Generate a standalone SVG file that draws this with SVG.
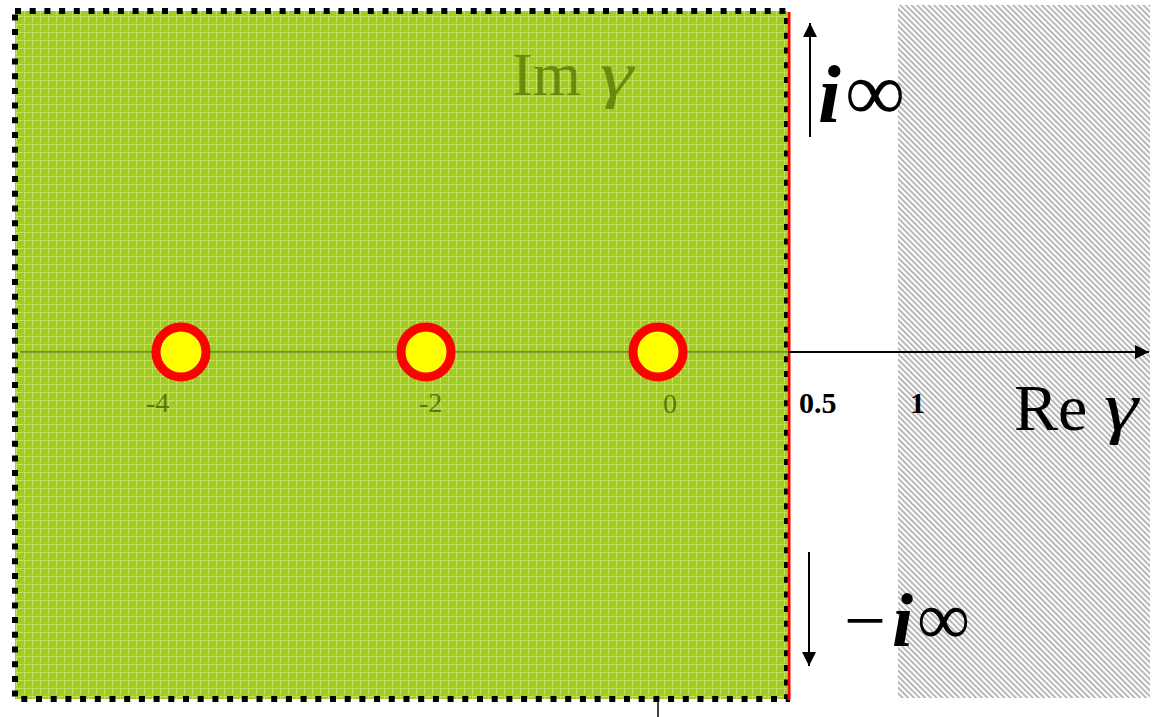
<svg xmlns="http://www.w3.org/2000/svg" width="1153" height="717" viewBox="0 0 1153 717">
<defs>
<pattern id="mesh" width="8" height="8" patternUnits="userSpaceOnUse">
<rect width="8" height="8" fill="#a2cd22"/>
<path d="M0 0.5H8M0.5 0V8" stroke="#c4e160" stroke-width="1"/>
<path d="M0 8L8 0" stroke="#8fb81e" stroke-width="0.8" opacity="0.5"/>
</pattern>
<pattern id="hatch" width="4" height="4" patternUnits="userSpaceOnUse" patternTransform="rotate(-45)">
<rect width="4" height="4" fill="#ffffff"/>
<rect width="1.6" height="4" fill="#a8a8a8"/>
</pattern>
<marker id="ahv" viewBox="0 0 10 10" refX="10" refY="5" markerWidth="16" markerHeight="14" markerUnits="userSpaceOnUse" orient="auto">
<path d="M0 0L10 5L0 10z" fill="#000"/>
</marker>
</defs>
<style>
.pole{fill:#ffff00;stroke:#ff0000;stroke-width:9}
.tick{font-family:"Liberation Serif",serif;font-size:28px;fill:#3d5c00;opacity:0.75}
.num{font-family:"Liberation Serif",serif;font-size:30px;font-weight:bold;fill:#000}
.big{font-family:"Liberation Serif",serif;fill:#000}
.im{font-family:"Liberation Serif",serif;fill:#4d6e00;opacity:0.7}
</style>
<rect id="hatched-region" x="898" y="5" width="252" height="693" fill="url(#hatch)"/>
<rect id="green-region" x="15" y="11" width="772" height="688" fill="url(#mesh)"/>
<line x1="20" y1="352" x2="788" y2="352" stroke="#3f5f00" stroke-width="1.2"/>
<rect x="15" y="11" width="772" height="688" fill="none" stroke="#000" stroke-width="6" stroke-dasharray="6 8.7"/>
<line x1="789" y1="12" x2="789" y2="700" stroke="#ff0000" stroke-width="3"/>
<g id="connectors">
<line x1="788" y1="352" x2="1149" y2="352" stroke="#000" stroke-width="2" marker-end="url(#ahv)"/>
<line x1="810" y1="137" x2="810" y2="23" stroke="#000" stroke-width="2" marker-end="url(#ahv)"/>
<line x1="809" y1="552" x2="809" y2="666" stroke="#000" stroke-width="2" marker-end="url(#ahv)"/>
<line x1="658" y1="702" x2="658" y2="717" stroke="#000" stroke-width="1.5"/>
</g>
<g id="pole-m4"><circle class="pole" cx="181" cy="352" r="25"/></g>
<g id="pole-m2"><circle class="pole" cx="426" cy="352" r="25"/></g>
<g id="pole-0"><circle class="pole" cx="658" cy="352" r="25"/></g>
<text class="tick" x="146" y="412">-4</text>
<text class="tick" x="419" y="412">-2</text>
<text class="tick" x="663" y="413">0</text>
<text class="num" x="799" y="413">0.5</text>
<text class="num" x="910" y="413">1</text>
<g id="label-re">
<text class="big" x="1014" y="430" font-size="66">Re</text>
<text class="big" x="1104" y="430" font-size="70" font-style="italic" textLength="34" lengthAdjust="spacingAndGlyphs">γ</text>
</g>
<g id="label-im">
<text class="im" x="512" y="95" font-size="62">Im</text>
<text class="im" x="600" y="95" font-size="64" font-style="italic" textLength="33" lengthAdjust="spacingAndGlyphs">γ</text>
</g>
<g id="label-iinf">
<text class="big" x="818" y="122" font-size="82" font-style="italic" font-weight="bold">i</text>
<text class="big" x="845" y="120" font-size="84" textLength="60" lengthAdjust="spacingAndGlyphs">∞</text>
</g>
<g id="label-minus-iinf">
<text class="big" x="844" y="646" font-size="76" textLength="42" lengthAdjust="spacingAndGlyphs">−</text>
<text class="big" x="892" y="646" font-size="76" font-style="italic" font-weight="bold">i</text>
<text class="big" x="917" y="644" font-size="76" textLength="53" lengthAdjust="spacingAndGlyphs">∞</text>
</g>
</svg>
